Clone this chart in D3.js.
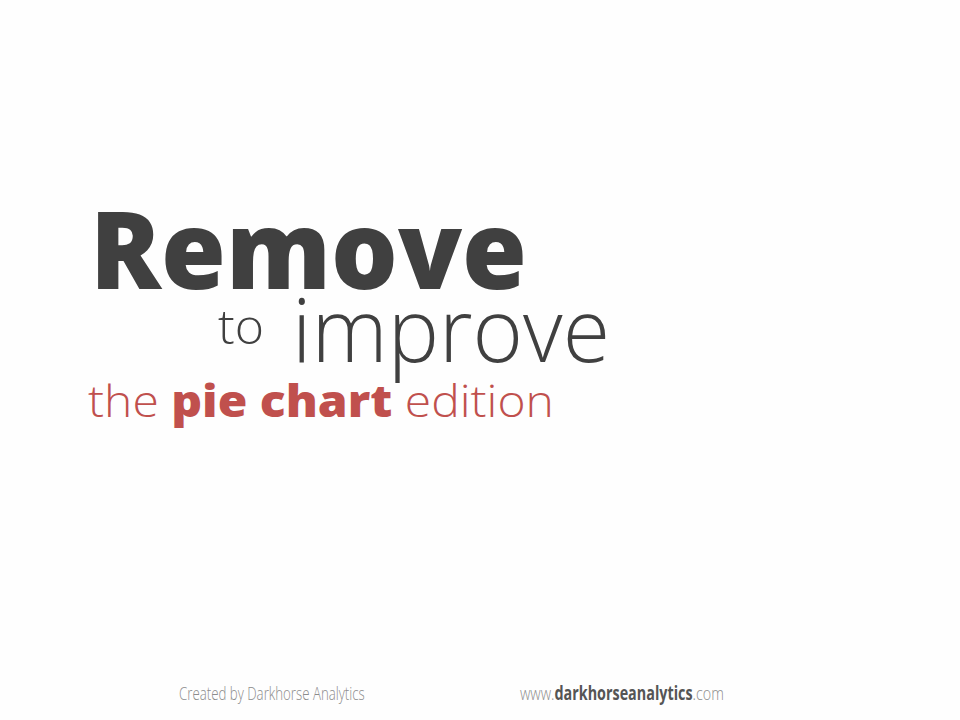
<!DOCTYPE html>
<html>
<head>
<meta charset="utf-8">
<script src="https://cdn.jsdelivr.net/npm/d3@7"></script>
<style>
  body { margin: 0; background: #fefefe; }
  svg { display: block; }
</style>
</head>
<body>
<div id="chart"></div>
<script>
var width = 960;
var height = 720;

// title pieces
var titleWords = ["Remove"];
var subWords = ["to", "improve"];
var editionParts = ["the ", "pie chart", " edition"];
var editionWeights = [300, 800, 300];
var footerLeft = ["Created by Darkhorse Analytics"];
var footerRight = ["www.", "darkhorseanalytics", ".com"];
var footerRightWeights = [300, 700, 300];

var dark = "#404040";
var red = "#c0504d";
var grey = "#8c8c8c";

var svg = d3.select("#chart").append("svg").attr("width", width).attr("height", height);

svg.append("rect").attr("width", width).attr("height", height).attr("fill", "#fefefe");

// squeeze a text group sideways so it spans the wanted width
function fitWidth(g, x, y, target){
    var w = g.node().getBBox().width;
    g.attr("transform", "translate(" + x + "," + y + ") scale(" + (target / w) + ",1)");
}

svg.append("text")
    .attr("x", 90)
    .attr("y", 289)
    .attr("fill", dark)
    .style("font-family", "'Open Sans'")
    .style("font-weight", 800)
    .style("font-size", "108px")
    .attr("textLength", 437)
    .attr("lengthAdjust", "spacingAndGlyphs")
    .text(titleWords[0]);

svg.append("text")
    .attr("x", 218)
    .attr("y", 344)
    .attr("fill", dark)
    .style("font-family", "'Open Sans'")
    .style("font-weight", 300)
    .style("font-size", "47px")
    .attr("textLength", 46)
    .attr("lengthAdjust", "spacingAndGlyphs")
    .text(subWords[0]);

svg.append("text")
    .attr("x", 292)
    .attr("y", 362)
    .attr("fill", dark)
    .style("font-family", "'Open Sans'")
    .style("font-weight", 300)
    .style("font-size", "88px")
    .attr("textLength", 318)
    .attr("lengthAdjust", "spacingAndGlyphs")
    .text(subWords[1]);

var edG = svg.append("g");
var ed = edG.append("text")
    .attr("x", 0)
    .attr("y", 0)
    .attr("fill", red)
    .style("font-family", "'Open Sans'")
    .style("font-size", "45px")
    .style("white-space", "pre");

ed.selectAll("tspan").data(editionParts).enter().append("tspan")
    .style("font-weight", function(d, i){ return editionWeights[i]; })
    .text(function(d){ return d; });
fitWidth(edG, 88, 417, 466);

var flG = svg.append("g");
flG.append("text")
    .attr("fill", grey)
    .style("font-family", "'Open Sans'")
    .style("font-weight", 300)
    .style("font-size", "19px")
    .text(footerLeft[0]);
fitWidth(flG, 179, 700, 186);

var frG = svg.append("g");
var fr = frG.append("text")
    .attr("fill", grey)
    .style("font-family", "'Open Sans'")
    .style("font-size", "19px");

fr.selectAll("tspan").data(footerRight).enter().append("tspan")
    .style("font-weight", function(d, i){ return footerRightWeights[i]; })
    .attr("fill", function(d, i){ return i == 1 ? "#555555" : grey; })
    .text(function(d){ return d; });
fitWidth(frG, 520, 700, 204);
</script>
</body>
</html>
